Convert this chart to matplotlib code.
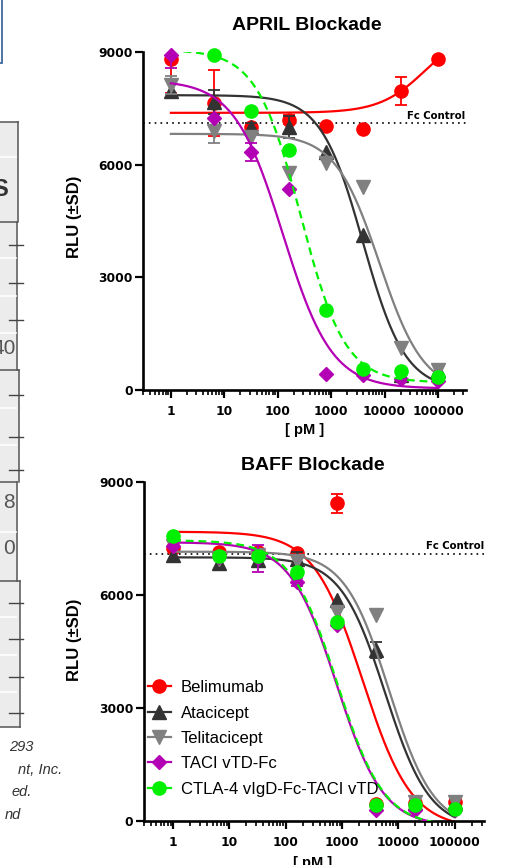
import numpy as np
import matplotlib.pyplot as plt
from matplotlib.lines import Line2D
from matplotlib.patches import Rectangle
from matplotlib.ticker import FixedLocator, LogLocator, NullFormatter

# concentrations (pM)
conc = [1, 6.4, 32, 160, 800, 4000, 20000, 100000]
names = ["Belimumab", "Atacicept", "Telitacicept", "TACI vTD-Fc", "CTLA-4 vIgD-Fc-TACI vTD"]
colors = ["#ff0000", "#333333", "#808080", "#b400b4", "#00f000"]
markers = ["o", "^", "v", "D", "o"]
msizes = [9.5, 9.5, 9.5, 7.5, 9.5]
fc_control = 7100

# APRIL blockade, mean RLU and SD
april_belimumab = [8820, 7640, 7000, 7190, 7030, 6950, 7960, 8815]
april_atacicept = [7950, 7670, 7000, 7000, 6340, 4130, 400, 530]
april_telitacicept = [8120, 6900, 6750, 5780, 6040, 5410, 1120, 540]
april_taci = [8920, 7240, 6340, 5350, 430, 400, 300, 250]
april_ctla4 = [np.nan, 8920, 7430, 6390, 2130, 560, 510, 350]
april_sd = [
    [900, 880, 120, 120, 0, 0, 380, 0],
    [0, 320, 120, 300, 0, 0, 0, 0],
    [250, 330, 0, 0, 0, 0, 0, 0],
    [350, 0, 250, 0, 0, 0, 0, 0],
    [0, 0, 0, 0, 0, 0, 0, 0],
]
# fitted curves: value at low conc, value at high conc, EC50, hill
april_fit = [
    [7380, 9680, 60000, 1.0],
    [7850, 0, 3950, 1.1],
    [6820, -50, 8000, 1.05],
    [8250, 40, 125, 0.95],
    [9060, 200, 270, 1.05],
]

# BAFF blockade
baff_belimumab = [7250, 7150, 7150, 7110, 8440, 450, 480, 500]
baff_atacicept = [7060, 6850, 6930, 6950, 5870, 4540, 480, 500]
baff_telitacicept = [7300, 6950, 7050, 6900, 5550, 5470, 500, 500]
baff_taci = [7300, 7000, 6970, 6350, 5200, 300, 300, 300]
baff_ctla4 = [7570, 7040, 7040, 6610, 5280, 430, 425, 320]
baff_sd = [
    [0, 0, 0, 0, 250, 0, 0, 0],
    [0, 0, 0, 190, 0, 220, 0, 0],
    [0, 0, 0, 0, 0, 0, 0, 0],
    [0, 0, 360, 100, 0, 0, 0, 0],
    [0, 0, 0, 0, 0, 0, 0, 0],
]
baff_fit = [
    [7680, -200, 2300, 1.0],
    [7000, -200, 5800, 1.1],
    [7150, -200, 6800, 1.1],
    [7400, -150, 800, 1.05],
    [7450, -150, 820, 1.05],
]

april_means = [april_belimumab, april_atacicept, april_telitacicept, april_taci, april_ctla4]
baff_means = [baff_belimumab, baff_atacicept, baff_telitacicept, baff_taci, baff_ctla4]

TICKFONT = "DejaVu Sans"
LABFONT = "Liberation Sans"


def logistic(x, start, end, ec50, hill):
    return end + (start - end) / (1 + (x / ec50) ** hill)


def panel(ax, means, sds, fits):
    xc = np.logspace(0, 5, 400)
    x = np.array(conc)
    for i in range(5):
        y = np.array(means[i], dtype=float)
        e = np.array(sds[i], dtype=float)
        ls = (0, (3.5, 2.2)) if i == 4 else "-"
        ax.plot(xc, logistic(xc, *fits[i]), color=colors[i], lw=1.6, ls=ls, zorder=2 + i)
        m = e > 0
        if m.any():
            ax.errorbar(x[m], y[m], yerr=e[m], fmt="none", ecolor=colors[i], elinewidth=1.3,
                        capsize=4, capthick=1.3, zorder=2 + i, clip_on=True)
        ax.plot(x, y, ls="none", marker=markers[i], ms=msizes[i], color=colors[i],
                mec=colors[i], zorder=2.5 + i, clip_on=False)
    ax.axhline(fc_control, color="black", lw=1.2, ls=(0, (1, 2.5)), zorder=1)
    ax.annotate("Fc Control", xy=(1.0, fc_control), xycoords=("axes fraction", "data"),
                xytext=(0, 1.5), textcoords="offset points", ha="right", va="bottom",
                fontsize=7.3, fontweight="bold", family=TICKFONT)

    ax.set_xscale("log")
    ax.set_xlim(0.3, 3.3e5)
    ax.set_ylim(0, 9000)
    for s in ["top", "right"]:
        ax.spines[s].set_visible(False)
    for s in ["left", "bottom"]:
        ax.spines[s].set_linewidth(1.9)
    ax.set_yticks([0, 3000, 6000, 9000])
    ax.xaxis.set_major_locator(FixedLocator([1, 10, 100, 1000, 10000, 100000]))
    ax.set_xticklabels(["1", "10", "100", "1000", "10000", "100000"])
    ax.xaxis.set_minor_locator(LogLocator(base=10, subs=np.arange(2, 10), numticks=20))
    ax.xaxis.set_minor_formatter(NullFormatter())
    ax.tick_params(axis="both", which="major", length=6, width=1.6, labelsize=8.8, pad=1.5)
    ax.tick_params(axis="x", which="major", pad=5)
    ax.tick_params(axis="x", which="minor", length=3.5, width=1.2)
    for lab in ax.get_xticklabels() + ax.get_yticklabels():
        lab.set_fontweight("bold")
        lab.set_family(TICKFONT)
    ax.patch.set_alpha(0)


fig = plt.figure(figsize=(5.25, 8.65), dpi=100)

# background layer in pixel coordinates (cropped table on the left)
bg = fig.add_axes([0, 0, 1, 1], zorder=-5)
bg.set_xlim(0, 525)
bg.set_ylim(865, 0)
bg.axis("off")
bg.add_patch(Rectangle((-10, -10), 12, 73, fill=False, ec="#3f6a9e", lw=1.3))
segments = [(122, 222, 18), (222, 370, 17), (370, 482, 19), (482, 581, 17), (581, 727, 20)]
for y0, y1, xr in segments:
    bg.add_patch(Rectangle((-5, y0), xr + 5, y1 - y0, fc="#ececec", ec="none"))
    bg.plot([xr, xr], [y0, y1], color="#555555", lw=1.1)
    bg.plot([-5, xr], [y0, y0], color="#555555", lw=1.1)
bg.plot([-5, 20], [727, 727], color="#555555", lw=1.1)
for yy in [157, 258, 296, 333, 408, 445, 532, 617, 655, 692]:
    bg.plot([-5, 16], [yy, yy], color="white", lw=1.2)
for yy in [245, 283, 320, 395, 437, 470, 603, 639, 677, 713]:
    bg.plot([9, 23], [yy, yy], color="#444444", lw=1.0)
bg.text(8, 190, "S", ha="right", va="center", fontsize=17, fontweight="bold", color="#333333", family=LABFONT)
bg.text(16, 348, "40", ha="right", va="center", fontsize=15, color="#555555", family=LABFONT)
bg.text(15, 502, "8", ha="right", va="center", fontsize=15, color="#555555", family=LABFONT)
bg.text(15, 548, "0", ha="right", va="center", fontsize=15, color="#555555", family=LABFONT)
for txt, xr, yy in [("293", 33, 747), ("nt, Inc.", 62, 770), ("ed.", 32, 792), ("nd", 21, 815)]:
    bg.text(xr, yy, txt, ha="right", va="center", fontsize=10.5, style="italic",
            color="#333333", family=LABFONT)

# titles and axis labels
bg.text(307, 26, "APRIL Blockade", ha="center", va="center", fontsize=14, fontweight="bold", family=LABFONT)
bg.text(313, 466, "BAFF Blockade", ha="center", va="center", fontsize=14, fontweight="bold", family=LABFONT)
bg.text(74, 217, "RLU (±SD)", ha="center", va="center", rotation=90, fontsize=12, fontweight="bold", family=LABFONT)
bg.text(74, 640, "RLU (±SD)", ha="center", va="center", rotation=90, fontsize=12, fontweight="bold", family=LABFONT)
bg.text(305, 423, "[ pM ]", ha="center", va="top", fontsize=10.5, fontweight="bold", family=LABFONT)
bg.text(313, 856, "[ pM ]", ha="center", va="top", fontsize=10.5, fontweight="bold", family=LABFONT)

ax1 = fig.add_axes([143 / 525, 1 - 390 / 865, 322.7 / 525, 338 / 865])
panel(ax1, april_means, april_sd, april_fit)

ax2 = fig.add_axes([143.7 / 525, 1 - 821 / 865, 340.3 / 525, 339 / 865])
panel(ax2, baff_means, baff_sd, baff_fit)

handles = [Line2D([], [], color=colors[i], lw=1.6, marker=markers[i], ms=msizes[i]) for i in range(5)]
leg = ax2.legend(handles, names, loc="upper left", bbox_to_anchor=(0.013, 0.415), frameon=False,
                 borderpad=0, borderaxespad=0, handlelength=1.35, handletextpad=0.6,
                 labelspacing=0.62, prop={"family": LABFONT, "size": 12})

fig.savefig("out.png", dpi=100)
